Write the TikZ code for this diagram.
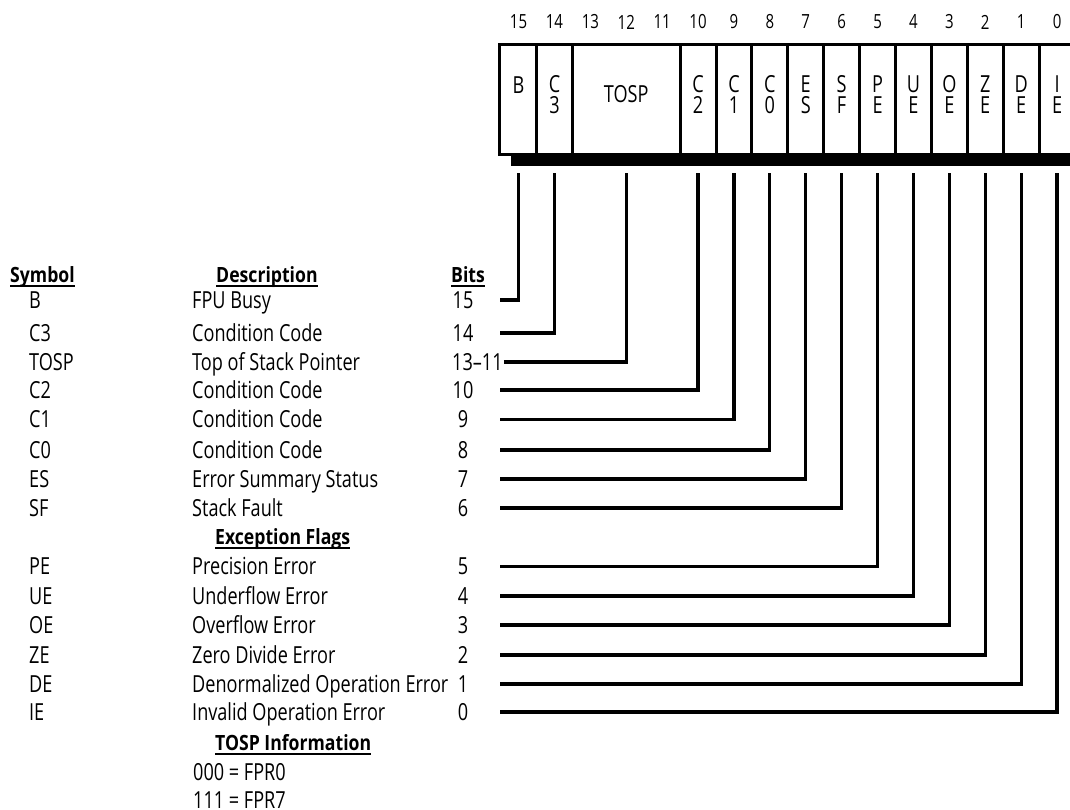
\documentclass[tikz,border=0pt]{standalone}
\usepackage{fontspec}
\setmainfont{Open Sans}[FakeStretch=0.77]
\newfontfamily\headfont{Open Sans}[FakeStretch=0.84]
\usetikzlibrary{positioning}

\begin{document}
\begin{tikzpicture}[x=1pt, y=-1pt,
  bitnum/.style={font=\fontsize{19.5}{19.5}\selectfont, inner sep=0},
  regcell/.style={font=\fontsize{23.5}{21}\selectfont, inner sep=0, text height=16.5pt, text depth=0pt},
  tab/.style={font=\fontsize{23.5}{24}\selectfont, anchor=west, inner sep=0, text height=16.5pt, text depth=0pt},
  hdr/.style={tab, font=\fontsize{21}{24}\headfont\bfseries, text height=15pt},
  uline/.style={line width=1.8pt},
  frame/.style={line width=3pt},
  lead/.style={line width=3.2pt}
]
\useasboundingbox (0,0) rectangle (1070,810);

% register
\draw[frame] (499,45) rectangle (1080,155);
\fill (511,153) rectangle (1080,166);
\foreach \k in {0,1,4,5,6,7,8,9,10,11,12,13,14}
  \draw[frame] ({536.5+35.9*\k},45) -- ({536.5+35.9*\k},155);

\foreach \b in {0,...,15}
  \node[bitnum] (num\b) at ({554.45+35.9*(14-\b)},22) {\b};

\node[regcell] (cell15) at (518.5,85) {B};
\foreach \b/\up/\dn in {14/C/3, 10/C/2, 9/C/1, 8/C/0, 7/E/S, 6/S/F,
    5/P/E, 4/U/E, 3/O/E, 2/Z/E, 1/D/E, 0/I/E}
{
  \node[regcell] (cell\b) at ({554.45+35.9*(14-\b)},84) {\up};
  \node[regcell, below=4pt of cell\b] (low\b) {\dn};
}
\node[regcell] (cell12) at ({554.45+35.9*2},94) {TOSP};

\coordinate (ltop) at (0,173);
\coordinate (lstart) at (500,0);

% table headings
\node[hdr] (hsym) at (10,274.5) {Symbol};
\node[hdr] (hdesc) at (216,274.5) {Description};
\node[hdr] (hbits) at (451,274.5) {Bits};
\node[hdr] (hexc) at (215,537) {Exception Flags};
\node[hdr] (htosp) at (215,743) {TOSP Information};
\foreach \h in {hsym,hdesc,hbits,hexc,htosp}
  \draw[uline] ([yshift=-3.5pt]\h.south west) -- ([yshift=-3.5pt]\h.south east);

% table rows
\foreach \b/\sym/\desc/\y in {15/B/FPU Busy/300, 14/C3/Condition Code/333,
    10/C2/Condition Code/390, 9/C1/Condition Code/419.5, 8/C0/Condition Code/450,
    7/ES/Error Summary Status/479, 6/SF/Stack Fault/508, 5/PE/Precision Error/566.5,
    4/UE/Underflow Error/596, 3/OE/Overflow Error/625, 2/ZE/Zero Divide Error/655,
    1/DE/Denormalized Operation Error/684, 0/IE/Invalid Operation Error/712}
{
  \node[tab] (sym\b) at (29,\y) {\sym};
  \node[tab] (desc\b) at (192,\y) {\desc};
  \node[tab, anchor=center] (bits\b) at (463,\y) {\b};
  \draw[lead] (lstart |- bits\b.center) -| (cell\b.south |- ltop);
}
\node[tab] (sym12) at (29,362) {TOSP};
\node[tab] (desc12) at (192,362) {Top of Stack Pointer};
\node[tab] (bits12) at (452,362) {13–11};
\draw[lead] ([xshift=1pt]bits12.east) -| (cell12.south |- ltop);

\node[tab] (tosp0) at (193,772.5) {000 = FPR0};
\node[tab] (tosp7) at (193,800) {111 = FPR7};
\end{tikzpicture}
\end{document}
